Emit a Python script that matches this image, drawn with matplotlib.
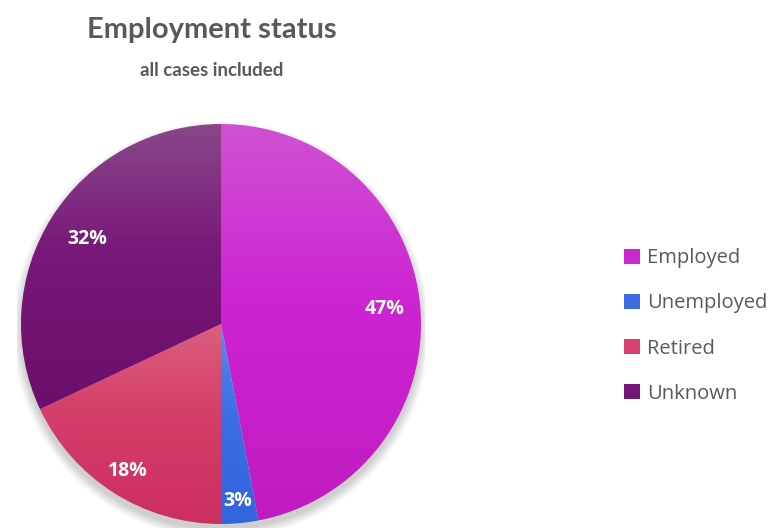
import numpy as np
import matplotlib.pyplot as plt
from matplotlib.colors import LinearSegmentedColormap
from matplotlib.patches import Ellipse, Patch

# employment status shares (percent)
categories = ['Employed', 'Unemployed', 'Retired', 'Unknown']
shares = [47, 3, 18, 32]

# bottom / middle / top shade of each slice
bottom_colors = ['#c01bc0', '#3264de', '#cc2e5e', '#6c0e6c']
mid_colors = ['#cd24d3', '#3b6ee4', '#d43e69', '#781878']
top_colors = ['#cf52d2', '#5a8cef', '#dc5f7f', '#894889']
legend_colors = ['#cc28d0', '#3a6be2', '#d8406e', '#72167a']
label_dist = [0.82, 0.89, 0.87, 0.79]

fig = plt.figure(figsize=(7.75, 5.31), dpi=100)
W, H = 775, 531
cx, cy, r = 221, 324, 204
ax = fig.add_axes([(cx - r) / W, (H - cy - r) / H, 2 * r / W, 2 * r / H])

# soft shadow under the pie
for i in range(8):
    ax.add_patch(Ellipse((0.0, -0.03), 2.0 + 0.012 * i, 2.0 + 0.012 * i,
                         color='black', alpha=0.025, lw=0, zorder=0))

wedges, _ = ax.pie(shares, startangle=90, counterclock=False,
                   radius=1.0, wedgeprops=dict(linewidth=0))

for w, c0, c1, c2 in zip(wedges, bottom_colors, mid_colors, top_colors):
    w.set_facecolor('none')
    bb = w.get_path().get_extents(w.get_transform() - ax.transData)
    cmap = LinearSegmentedColormap.from_list('g', [(0, c0), (0.55, c1), (1, c2)])
    grad = np.linspace(0, 1, 256).reshape(-1, 1)
    im = ax.imshow(grad, cmap=cmap, origin='lower', aspect='auto',
                   extent=[bb.x0, bb.x1, bb.y0, bb.y1], zorder=1)
    im.set_clip_path(w)

# percentage labels
total = float(sum(shares))
start = 90.0
for val, d in zip(shares, label_dist):
    mid = np.deg2rad(start - val / total * 360 / 2)
    start -= val / total * 360
    ax.text(d * np.cos(mid), d * np.sin(mid), '%d%%' % val,
            ha='center', va='center', color='white', fontsize=14,
            fontweight='bold', family='Open Sans', zorder=3)

ax.set_xlim(-1.02, 1.02)
ax.set_ylim(-1.02, 1.02)
ax.set_aspect('equal')
ax.axis('off')

fig.text(212 / W, 1 - 30 / H, 'Employment status', ha='center', va='center',
         fontsize=21, fontweight='bold', color='#595959', family='Lato')
fig.text(212 / W, 1 - 70 / H, 'all cases included', ha='center', va='center',
         fontsize=13.5, fontweight='bold', color='#595959', family='Lato')

handles = [Patch(facecolor=c, edgecolor='none') for c in legend_colors]
fig.legend(handles, categories, loc='center left',
           bbox_to_anchor=(606 / W, 1 - 326 / H), frameon=False,
           prop=dict(family='Open Sans', size=14.5), labelcolor='#595959',
           handlelength=0.8, handleheight=0.8, handletextpad=0.35,
           labelspacing=1.25)

fig.savefig('out.png', dpi=100)
